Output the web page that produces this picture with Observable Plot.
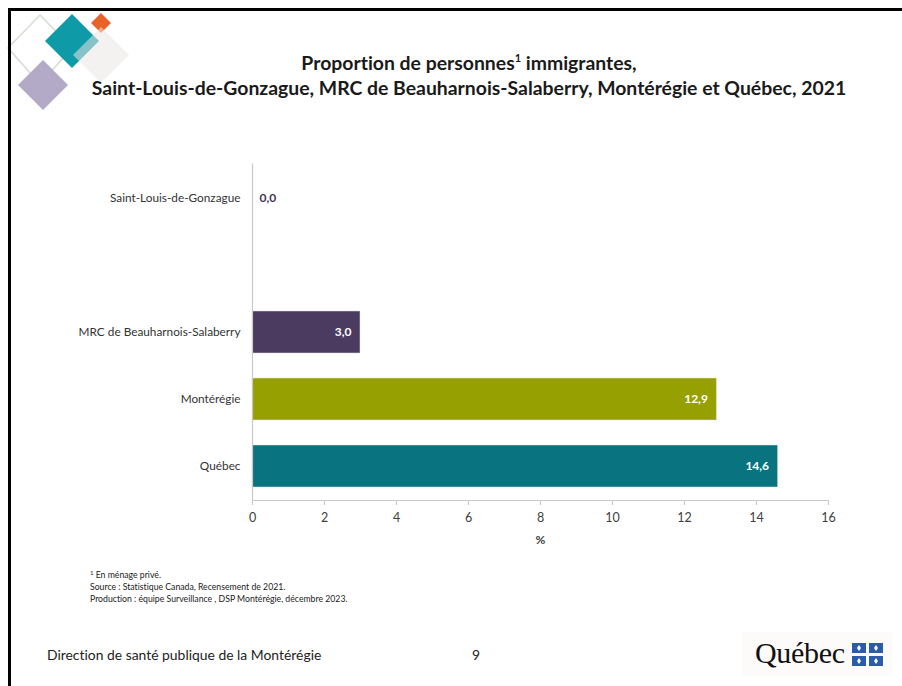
<!DOCTYPE html>
<html>
<head>
<meta charset="utf-8">
<script src="https://cdn.jsdelivr.net/npm/d3@7"></script>
<script src="https://cdn.jsdelivr.net/npm/@observablehq/plot@0.6"></script>
<style>
  html, body { margin: 0; padding: 0; background: #fff; }
  #page { position: relative; width: 902px; height: 686px; overflow: hidden; background: #fff; font-family: Lato, "Open Sans", sans-serif; font-variant-ligatures: none; }
  .bt { position: absolute; left: 8px; top: 8px; width: 900px; height: 3px; background: #000; }
  .bl { position: absolute; left: 8px; top: 8px; width: 3px; height: 700px; background: #000; }
  #title { position: absolute; left: 0; top: 50px; width: 938px; text-align: center; font-weight: bold; font-size: 19.4px; line-height: 25px; color: #1a1a1a; }
  #title sup { font-size: 11px; vertical-align: 8px; line-height: 0; }
  #chart { position: absolute; left: 0; top: 0; }
  #notes { position: absolute; left: 90px; top: 569px; font-size: 8.7px; line-height: 12px; color: #222; }
  #notes sup { font-size: 6px; vertical-align: 3px; line-height: 0; }
  #footer { position: absolute; left: 47px; top: 646px; font-size: 13.9px; color: #222; }
  #page-num { position: absolute; left: 472px; top: 646px; font-size: 13.9px; color: #222; }
  #qc { position: absolute; left: 742px; top: 632px; width: 150px; height: 44px; background: #fcfbfa; }
  #qc .word { position: absolute; left: 13px; top: 4px; font-family: "Liberation Serif", "DejaVu Serif", serif; font-size: 30px; color: #111; letter-spacing: -0.3px; }
  #logo { position: absolute; left: 0; top: 0; }
</style>
</head>
<body>
<div id="page">
  <svg id="logo" width="150" height="120">
    <polygon points="40,15 72,48 40,84 8,48" fill="none" stroke="#d6dcd3" stroke-width="1.5"/>
    <polygon points="43,60 68,85 43,110 18,85" fill="#b3aac7"/>
    <polygon points="72,14 99,41 72,68 45,41" fill="#0e9aa7"/>
    <polygon points="101,13 111,23 101,33 91,23" fill="#e8622a"/>
    <polygon points="101,27 129,55 101,83 73,55" fill="#e9e7e6" fill-opacity="0.55"/>
  </svg>
  <div class="bt"></div>
  <div class="bl"></div>
  <div id="title">Proportion de personnes<sup>1</sup> immigrantes,<br>Saint-Louis-de-Gonzague, MRC de Beauharnois-Salaberry, Montérégie et Québec, 2021</div>
  <div id="chart"></div>
  <div id="notes"><sup>1</sup> En ménage privé.<br>Source : Statistique Canada, Recensement de 2021.<br>Production : équipe Surveillance , DSP Montérégie, décembre 2023.</div>
  <div id="footer">Direction de santé publique de la Montérégie</div>
  <div id="page-num">9</div>
  <div id="qc"><span class="word">Québec</span>
    <svg style="position:absolute;left:110px;top:11px" width="32" height="24" id="fleur"></svg>
  </div>
</div>
<script>
// ---- data ----
const regions = ["Saint-Louis-de-Gonzague", "MRC de Beauharnois-Salaberry", "Montérégie", "Québec"];
const values = [0.0, 3.0, 12.9, 14.6];
const barColors = ["#3f3659", "#4b3b60", "#96a000", "#0a7380"];
const xTicks = [0, 2, 4, 6, 8, 10, 12, 14, 16];
const xLabel = "%";
const spacer = " ";
const yDomain = [regions[0], spacer, regions[1], regions[2], regions[3]];

const data = regions.map((r, i) => ({region: r, value: values[i], color: barColors[i]}));
const fmt = v => v.toFixed(1).replace(".", ",");

const W = 902, H = 560, mTop = 163.5, mBottom = 60, mLeft = 252, mRight = 74;

const chart = Plot.plot({
  width: W,
  height: H,
  marginTop: mTop,
  marginBottom: mBottom,
  marginLeft: mLeft,
  marginRight: mRight,
  style: {fontFamily: "Lato, 'Open Sans', sans-serif", fontSize: "12px", color: "#404040", background: "transparent"},
  x: {domain: [0, 16]},
  y: {domain: yDomain, paddingInner: 0.37, paddingOuter: 0.185},
  color: {type: "identity"},
  marks: [
    Plot.barX(data.filter(d => d.value > 0), {x: "value", y: "region", fill: "color", stroke: "#e6e6e6", strokeOpacity: 0.5, strokeWidth: 1}),
    Plot.ruleX([0], {stroke: "#c8c8c8", strokeWidth: 1.2}),
    Plot.axisX({ticks: xTicks, tickSize: 5, tickPadding: 8, stroke: "#c8c8c8", fill: "#404040", fontSize: 12.5, label: null}),
    Plot.text([xLabel], {frameAnchor: "bottom", dy: 43, text: d => d, fontWeight: "bold", fill: "#404040", fontSize: 12}),
    Plot.axisY({tickSize: 0, tickPadding: 12, fill: "#333333", fontSize: 11.8, label: null}),
    Plot.text(data.filter(d => d.value > 0), {x: "value", y: "region", text: d => fmt(d.value), textAnchor: "end", dx: -9, fill: "#ffffff", fontWeight: "bold", fontSize: 12}),
    Plot.text(data.filter(d => d.value === 0), {x: "value", y: "region", text: d => fmt(d.value), textAnchor: "start", dx: 7, fill: "#3f3659", fontWeight: "bold", fontSize: 12})
  ]
});

// bottom axis line using the plot's x scale
const xs = chart.scale("x");
d3.select(chart).append("line")
  .attr("x1", xs.apply(0)).attr("x2", xs.apply(16))
  .attr("y1", H - mBottom + 0.5).attr("y2", H - mBottom + 0.5)
  .attr("stroke", "#c8c8c8").attr("stroke-width", 1.2);

document.getElementById("chart").appendChild(chart);

// Québec flag squares decoration
const fl = d3.select("#fleur");
[[0,0],[17,0],[0,13],[17,13]].forEach(([x,y]) => {
  fl.append("rect").attr("x", x).attr("y", y).attr("width", 14).attr("height", 10).attr("fill", "#2a5caa");
  fl.append("path").attr("d", `M${x+7},${y+2} L${x+9},${y+5} L${x+7},${y+8} L${x+5},${y+5} Z`).attr("fill", "#fff");
});
</script>
</body>
</html>
